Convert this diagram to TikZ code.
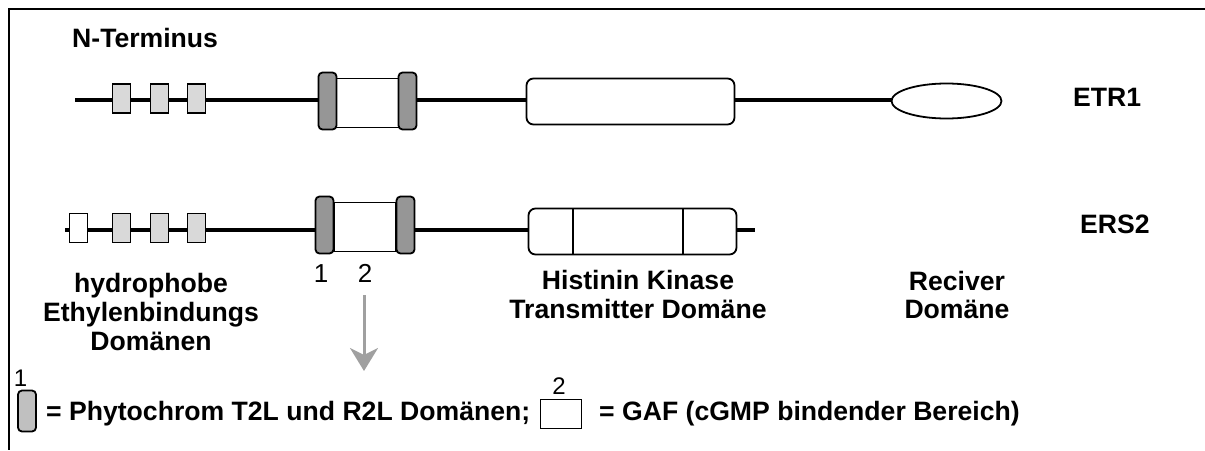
\documentclass[tikz,border=0pt]{standalone}
\usepackage{fontspec}
\setmainfont{Liberation Sans}
\usetikzlibrary{arrows.meta,shapes.geometric}

\definecolor{capgrey}{HTML}{969696}
\definecolor{hydgrey}{HTML}{D9D9D9}
\definecolor{keygrey}{HTML}{C0C0C0}
\definecolor{arrowgrey}{HTML}{A0A0A0}

\tikzset{
  lbl/.style={font=\fontsize{26.6}{29}\selectfont\bfseries, inner sep=0pt, anchor=base},
  num/.style={font=\fontsize{26}{28}\selectfont, inner sep=0pt, anchor=base},
  keynum/.style={font=\fontsize{24}{26}\selectfont, inner sep=0pt, anchor=base},
  backbone/.style={line width=4.8pt},
  hydbox/.style={rectangle, draw, line width=1.8pt, fill=hydgrey, minimum width=18pt, minimum height=29pt, inner sep=0pt},
  openbox/.style={hydbox, fill=white},
  capbox/.style={rectangle, draw, line width=1.8pt, fill=capgrey, rounded corners=4pt, minimum width=18pt, minimum height=57pt, inner sep=0pt},
  gafbox/.style={rectangle, draw, line width=1.5pt, fill=white, minimum width=62pt, minimum height=49pt, inner sep=0pt},
  hkbox/.style={rectangle, draw, line width=1.8pt, fill=white, rounded corners=7pt, minimum width=208pt, minimum height=46pt, inner sep=0pt},
  recvbox/.style={ellipse, draw, line width=1.8pt, fill=white, minimum width=110pt, minimum height=35pt, inner sep=0pt},
}

\begin{document}
\begin{tikzpicture}[x=1pt,y=-1pt]
\useasboundingbox (0,0) rectangle (1205,450);

% frame
\draw[line width=2.2pt] (1205,9) -- (9,9) -- (9,450);

% ---------------- ETR1 ----------------
\coordinate (etrN) at (75,100);
\coordinate (etrC) at (892,100);
\draw[backbone] (etrN) -- (etrC);
\node[hydbox] (etrH1) at (121.5,98.5) {};
\node[hydbox] (etrH2) at (159.5,98.5) {};
\node[hydbox] (etrH3) at (196.5,98.5) {};
\node[gafbox] (etrG) at (367.5,103) {};
\node[capbox] (etrP1) at (327.5,101) {};
\node[capbox] (etrP2) at (407.5,101) {};
\node[hkbox] (etrHK) at (630.5,101.5) {};
\node[recvbox] (etrR) at (946.5,101) {};

% ---------------- ERS2 ----------------
\coordinate (ersN) at (65,230);
\coordinate (ersC) at (755,230);
\draw[backbone] (ersN) -- (ersC);
\node[openbox] (ersH0) at (78.5,228) {};
\node[hydbox] (ersH1) at (121.5,228) {};
\node[hydbox] (ersH2) at (159.5,228) {};
\node[hydbox] (ersH3) at (196.5,228) {};
\node[gafbox] (ersG) at (365,227) {};
\node[capbox] (ersP1) at (324.5,225) {};
\node[capbox] (ersP2) at (405.5,225) {};
\node[hkbox] (ersHK) at (632.5,231.5) {};
\draw[line width=1.9pt] (573,208.5) -- (573,254.5);
\draw[line width=1.9pt] (683,208.5) -- (683,254.5);

% ---------------- labels ----------------
\node[lbl, anchor=base west] (nterm) at (72,47) {N-Terminus};
\node[lbl, anchor=base west] (etr1) at (1073,106) {ETR1};
\node[lbl, anchor=base west] (ers2) at (1080,233) {ERS2};

\node[num] (n1) at (321,282) {1};
\node[num] (n2) at (365,282) {2};

\node[lbl] (hyA) at (151,292) {hydrophobe};
\node[lbl] (hyB) at (151,321) {Ethylenbindungs};
\node[lbl] (hyC) at (151,350) {Domänen};

\node[lbl] (hkA) at (638,289) {Histinin Kinase};
\node[lbl] (hkB) at (638,318) {Transmitter Domäne};

\node[lbl] (rcA) at (957,290) {Reciver};
\node[lbl] (rcB) at (957,318) {Domäne};

% arrow to the key
\coordinate (arrS) at (364,295);
\coordinate (arrE) at (364,371);
\draw[arrowgrey, line width=3pt, -{Stealth[length=23pt, width=28pt, inset=7pt]}] (arrS) -- (arrE);

% ---------------- key ----------------
\node[keynum] (k1) at (20.5,386) {1};
\node[capbox, fill=keygrey, minimum height=41pt] (kP) at (27,411) {};
\node[lbl, anchor=base west] (kPtxt) at (46,420) {= Phytochrom T2L und R2L Domänen;};
\node[keynum] (k2) at (559,394) {2};
\node[rectangle, draw, line width=1.8pt, fill=white, minimum width=41pt, minimum height=29pt, inner sep=0pt] (kG) at (561,414) {};
\node[lbl, anchor=base west] (kGtxt) at (599,420) {= GAF (cGMP bindender Bereich)};

\end{tikzpicture}
\end{document}
